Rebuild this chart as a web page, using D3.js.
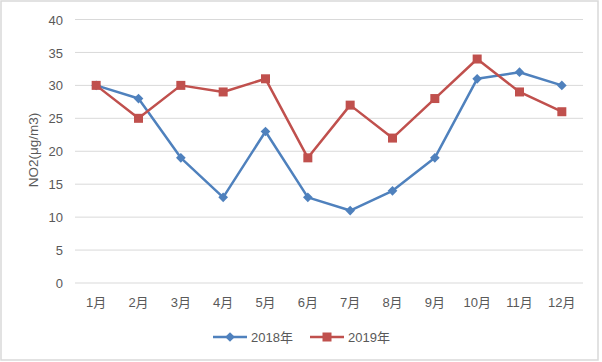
<!DOCTYPE html>
<html><head><meta charset="utf-8">
<script src="https://cdn.jsdelivr.net/npm/d3@7"></script>
<style>
body{margin:0;background:#fff;}
text{font-family:"Liberation Sans","Noto Sans CJK SC",sans-serif;fill:#595959;}
</style></head>
<body><svg id="c" width="602" height="362"></svg>
<script>
const months = ["1月","2月","3月","4月","5月","6月","7月","8月","9月","10月","11月","12月"];
const s2018 = [30,28,19,13,23,13,11,14,19,31,32,30];
const s2019 = [30,25,30,29,31,19,27,22,28,34,29,26];
const yTicks = [0,5,10,15,20,25,30,35,40];
const seriesNames = ["2018年","2019年"];
const colors = ["#4f81bd","#c0504d"];

const svg = d3.select("#c");
svg.append("rect").attr("x",1).attr("y",1).attr("width",597).attr("height",359)
  .attr("fill","#fff").attr("stroke","#d9d9d9").attr("stroke-width",1.5);

const x = d3.scaleBand().domain(months).range([75,583]);
const y = d3.scaleLinear().domain([0,40]).range([283,19.5]);

const g = svg.append("g");
g.selectAll("line.grid").data(yTicks).join("line")
  .attr("x1",75).attr("x2",583)
  .attr("y1",d=>y(d)).attr("y2",d=>y(d))
  .attr("stroke","#d9d9d9").attr("stroke-width",1);

const yAxis = svg.append("g").attr("transform","translate(75,0)")
  .call(d3.axisLeft(y).tickValues(yTicks).tickSize(0).tickPadding(12));
yAxis.select(".domain").remove();
yAxis.selectAll("text").attr("font-size",13).attr("fill","#595959").attr("dy","0.35em");

const xAxis = svg.append("g").attr("transform","translate(0,283)")
  .call(d3.axisBottom(x).tickSize(0).tickPadding(15));
xAxis.select(".domain").remove();
xAxis.selectAll("text").attr("font-size",13).attr("fill","#595959");
svg.selectAll(".tick text").style("font-family","Liberation Sans, Noto Sans CJK SC, sans-serif");

svg.append("text").attr("transform","translate(33,150) rotate(-90)")
  .attr("text-anchor","middle").attr("dy","0.35em").attr("font-size",13.5).attr("fill","#404040").text("NO2(μg/m3)");

const line = d3.line().x((d,i)=>x(months[i])+x.bandwidth()/2).y(d=>y(d));
[s2018,s2019].forEach((s,k)=>{
  svg.append("path").datum(s).attr("d",line).attr("fill","none")
    .attr("stroke",colors[k]).attr("stroke-width",2.5).attr("stroke-linejoin","round");
});
const cx = (i)=>x(months[i])+x.bandwidth()/2;
svg.selectAll("path.m18").data(s2018).join("path")
  .attr("d",d3.symbol(d3.symbolDiamond2,60))
  .attr("transform",(d,i)=>`translate(${cx(i)},${y(d)})`).attr("fill",colors[0]);
svg.selectAll("rect.m19").data(s2019).join("rect")
  .attr("x",(d,i)=>cx(i)-4.5).attr("y",d=>y(d)-4.5).attr("width",9).attr("height",9)
  .attr("fill",colors[1]);

// legend
const lg = [{x:213,name:seriesNames[0]},{x:310,name:seriesNames[1]}];
lg.forEach((l,k)=>{
  svg.append("line").attr("x1",l.x).attr("x2",l.x+34).attr("y1",337).attr("y2",337)
    .attr("stroke",colors[k]).attr("stroke-width",2.5);
  if(k===0){
    svg.append("path").attr("d",d3.symbol(d3.symbolDiamond2,60))
      .attr("transform",`translate(${l.x+17},337)`).attr("fill",colors[k]);
  } else {
    svg.append("rect").attr("x",l.x+17-4.5).attr("y",337-4.5).attr("width",9).attr("height",9).attr("fill",colors[k]);
  }
  svg.append("text").attr("x",l.x+38).attr("y",337).attr("dy","0.35em")
    .attr("font-size",13).text(l.name);
});
</script></body></html>
